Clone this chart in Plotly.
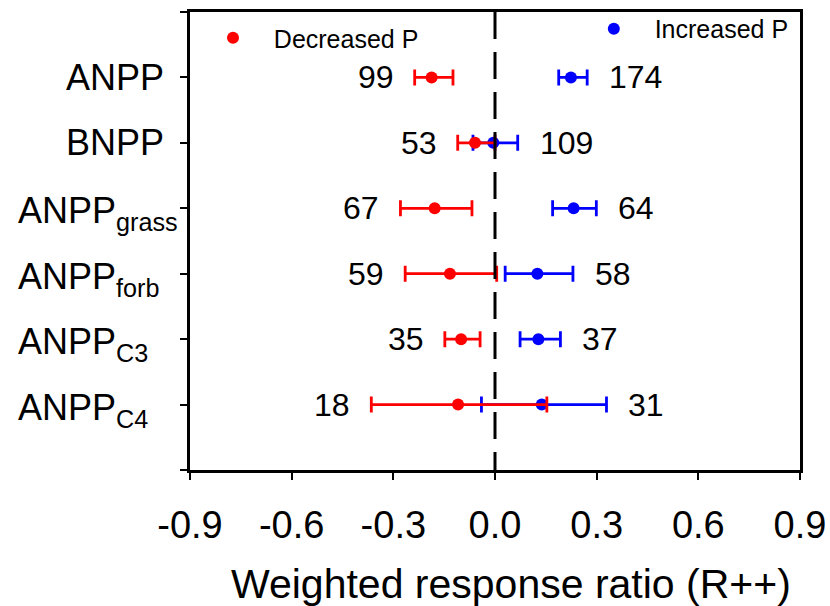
import plotly.graph_objects as go

# ---- data ----
categories = ["ANPP", "BNPP", "ANPP<sub>grass</sub>", "ANPP<sub>forb</sub>",
              "ANPP<sub>C3</sub>", "ANPP<sub>C4</sub>"]
cat_pos = [6, 5, 4, 3, 2, 1]

dec_mean = [-0.187, -0.059, -0.178, -0.133, -0.100, -0.109]
dec_low = [-0.237, -0.110, -0.279, -0.265, -0.148, -0.365]
dec_high = [-0.124, 0.000, -0.068, 0.005, -0.044, 0.153]
dec_n = [99, 53, 67, 59, 35, 18]

inc_mean = [0.224, -0.005, 0.232, 0.125, 0.128, 0.138]
inc_low = [0.188, -0.065, 0.170, 0.030, 0.074, -0.040]
inc_high = [0.272, 0.067, 0.299, 0.230, 0.193, 0.329]
inc_n = [174, 109, 64, 58, 37, 31]

x_ticks = [-0.9, -0.6, -0.3, 0.0, 0.3, 0.6, 0.9]

FONT = "Arial, Liberation Sans, sans-serif"
NB = "\u00a0"

fig = go.Figure()

def add_series(mean, low, high, color, name, legend):
    fig.add_trace(go.Scatter(
        x=mean, y=cat_pos, mode="markers", name=NB * 3 + name, legend=legend,
        marker=dict(color=color, size=12),
        error_x=dict(type="data", symmetric=False,
                     array=[h - m for h, m in zip(high, mean)],
                     arrayminus=[m - l for m, l in zip(mean, low)],
                     color=color, thickness=2.8, width=8),
    ))

add_series(inc_mean, inc_low, inc_high, "#0000FF", "Increased P", "legend2")
add_series(dec_mean, dec_low, dec_high, "#FF0000", "Decreased P", "legend")

annotations = []
# n labels
for y, lo, n in zip(cat_pos, dec_low, dec_n):
    annotations.append(dict(x=lo, y=y, xref="x", yref="y", text=str(n),
                            showarrow=False, xanchor="right", yanchor="middle",
                            xshift=-19, font=dict(size=32, color="black", family=FONT)))
for y, hi, n in zip(cat_pos, inc_high, inc_n):
    annotations.append(dict(x=hi, y=y, xref="x", yref="y", text=str(n),
                            showarrow=False, xanchor="left", yanchor="middle",
                            xshift=20, font=dict(size=32, color="black", family=FONT)))
# category labels
for y, c in zip(cat_pos, categories):
    if "<sub>" in c:
        annotations.append(dict(x=-0.286, y=y, xref="paper", yref="y", text=c,
                                showarrow=False, xanchor="left", yanchor="middle",
                                yshift=-5, font=dict(size=36, color="black", family=FONT)))
    else:
        annotations.append(dict(x=-0.040, y=y, xref="paper", yref="y", text=c,
                                showarrow=False, xanchor="right", yanchor="middle",
                                font=dict(size=36, color="black", family=FONT)))
# axis title
annotations.append(dict(x=0.526, y=-0.248, xref="paper", yref="paper",
                        text="Weighted response ratio (R++)", showarrow=False,
                        xanchor="center", yanchor="middle",
                        font=dict(size=41, color="black", family=FONT)))

fig.update_layout(
    width=830, height=606,
    margin=dict(l=190, r=30, t=12, b=136, autoexpand=False),
    paper_bgcolor="white", plot_bgcolor="white",
    font=dict(family=FONT, color="black"),
    showlegend=True,
    legend=dict(x=0.0377, y=0.943, xanchor="left", yanchor="middle",
                bgcolor="rgba(0,0,0,0)", font=dict(size=25, family=FONT)),
    legend2=dict(x=0.662, y=0.963, xanchor="left", yanchor="middle",
                 bgcolor="rgba(0,0,0,0)", font=dict(size=25, family=FONT)),
    annotations=annotations,
    shapes=[dict(type="line", xref="x", yref="y", x0=0, x1=0, y0=7, y1=0,
                 line=dict(color="black", width=3, dash="27px,13px"))],
    xaxis=dict(range=[-0.9, 0.9], tickvals=x_ticks,
               ticktext=[f"{v:.1f}" for v in x_ticks],
               ticks="outside", ticklen=7, tickwidth=2, tickcolor="black",
               showline=True, linewidth=3, linecolor="black", mirror=True,
               showgrid=False, zeroline=False, ticklabelstandoff=12,
               automargin=False,
               tickfont=dict(size=38, family=FONT, color="black")),
    yaxis=dict(range=[0, 7], tickvals=list(range(8)), ticktext=[""] * 8,
               ticks="outside", ticklen=7, tickwidth=2, tickcolor="black",
               showline=True, linewidth=3, linecolor="black", mirror=True,
               showgrid=False, zeroline=False, automargin=False),
)

fig.write_html("out.html")
